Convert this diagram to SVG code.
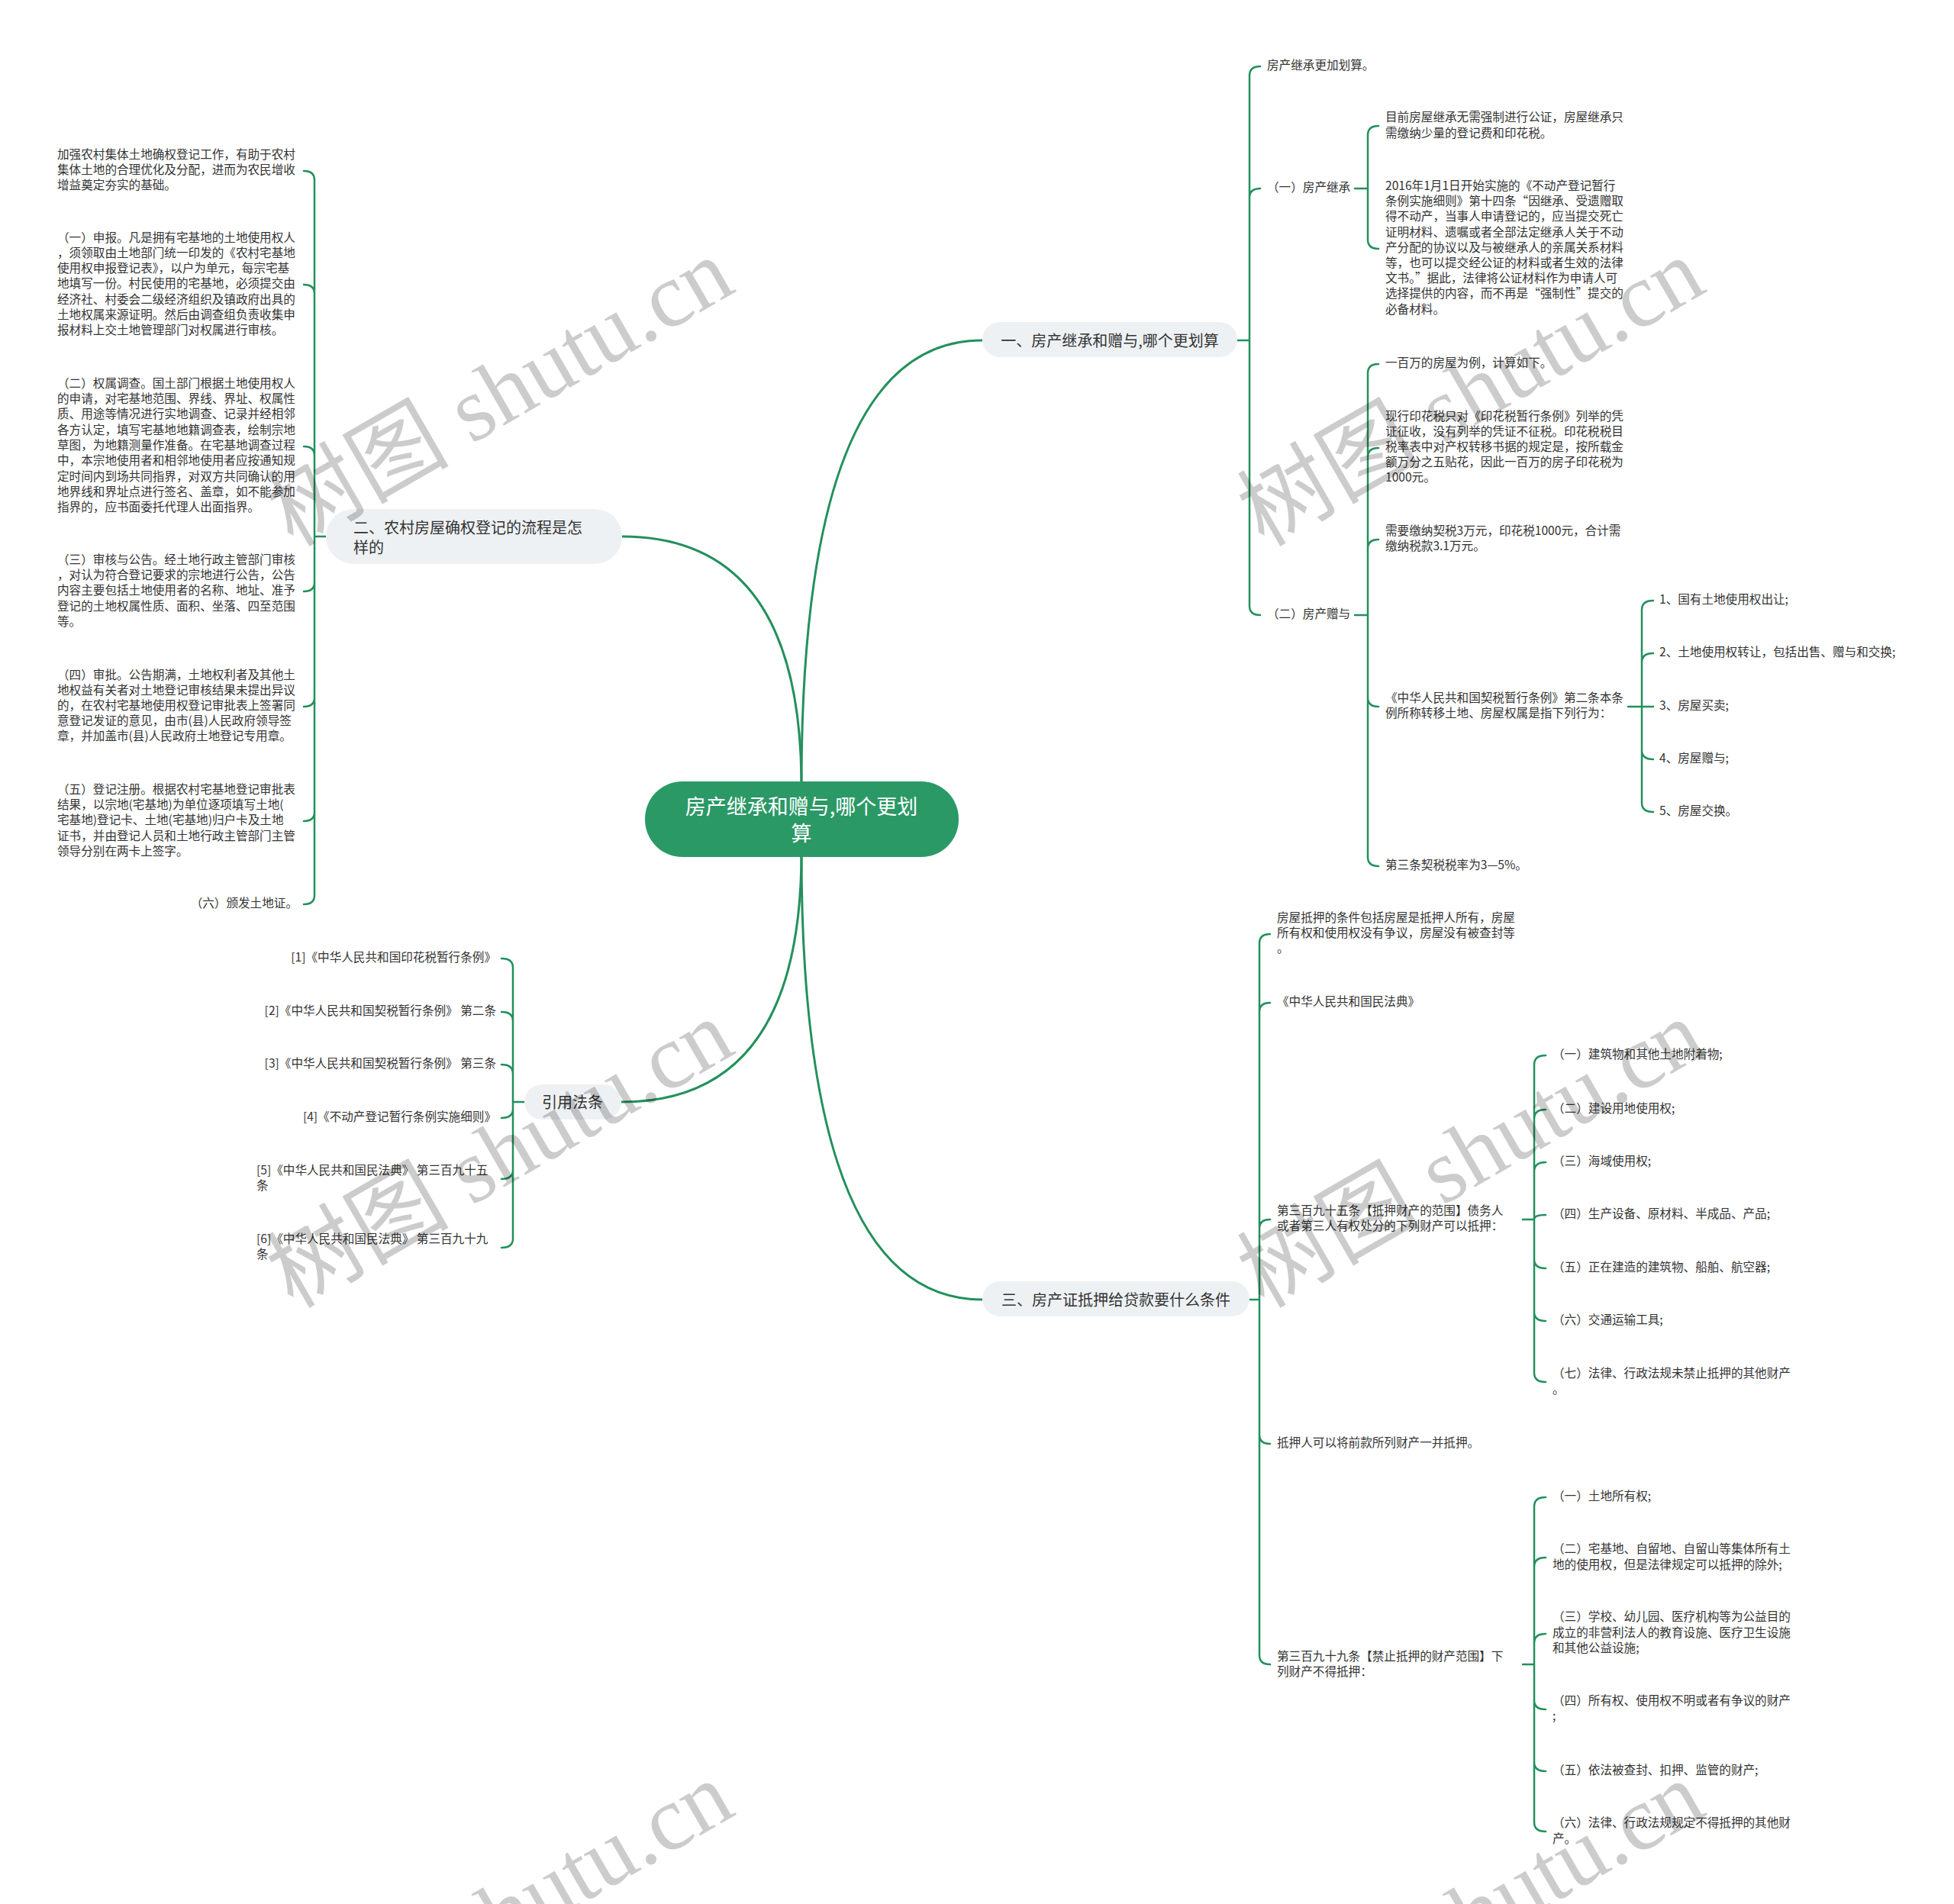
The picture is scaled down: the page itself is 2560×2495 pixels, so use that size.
<svg xmlns="http://www.w3.org/2000/svg" width="2560" height="2495" viewBox="0 0 2560 2495">
<style>
.t{font-family:"Noto Sans CJK SC","Liberation Sans",sans-serif;font-size:15.6px;fill:#333;dominant-baseline:central}
.bt{font-family:"Noto Sans CJK SC","Liberation Sans",sans-serif;font-size:20px;fill:#333;dominant-baseline:central}
.rt{font-family:"Noto Sans CJK SC","Liberation Sans",sans-serif;font-size:27px;fill:#fff;dominant-baseline:central}
.bn{fill:#eef1f4}
.ln{fill:none;stroke:#23905c;stroke-width:2.5;stroke-linecap:round}
.mn{fill:none;stroke:#23905c;stroke-width:3}
.wm{font-family:"Liberation Serif","Noto Sans CJK SC",serif;font-size:120px;fill:#000;fill-opacity:0.2}
</style>
<rect width="2560" height="2495" fill="#fff"/>
<g id="connectors">
<path class="mn" d="M1050 1030 Q1050 446 1287 446"/>
<path class="mn" d="M1050 1030 Q1050 703 815 703"/>
<path class="mn" d="M1050 1117 Q1050 1703 1287 1703"/>
<path class="mn" d="M1050 1117 Q1050 1444 814 1444"/>
<path class="ln" d="M1621 446 H1637 M1637 446 V99 Q1637 87 1651 87 M1637 446 V259 Q1637 247 1651 247 M1637 446 V794 Q1637 806 1651 806"/>
<path class="ln" d="M1775 247 H1792 M1792 247 V177 Q1792 165 1806 165 M1792 247 V314 Q1792 326 1806 326"/>
<path class="ln" d="M1775 806 H1792 M1792 806 V489 Q1792 477 1806 477 M1792 806 V599 Q1792 587 1806 587 M1792 806 V719 Q1792 707 1806 707 M1792 806 V914 Q1792 926 1806 926 M1792 806 V1123 Q1792 1135 1806 1135"/>
<path class="ln" d="M2133 926 H2166 M2151 926 V799 Q2151 787 2166 787 M2151 926 V868 Q2151 856 2166 856 M2151 926 V983 Q2151 995 2166 995 M2151 926 V1052 Q2151 1064 2166 1064"/>
<path class="ln" d="M1637 1703 H1650 M1650 1703 V1236 Q1650 1224 1664 1224 M1650 1703 V1326 Q1650 1314 1664 1314 M1650 1703 V1610 Q1650 1598 1664 1598 M1650 1703 V1880 Q1650 1892 1664 1892 M1650 1703 V2169 Q1650 2181 1664 2181"/>
<path class="ln" d="M1995 1598 H2010 M2010 1598 V1395 Q2010 1383 2025 1383 M2010 1598 V1466 Q2010 1454 2025 1454 M2010 1598 V1535 Q2010 1523 2025 1523 M2010 1598 Q2010 1592 2025 1592 M2010 1598 V1650 Q2010 1662 2025 1662 M2010 1598 V1719 Q2010 1731 2025 1731 M2010 1598 V1799 Q2010 1811 2025 1811"/>
<path class="ln" d="M1995 2181 H2010 M2010 2181 V1974 Q2010 1962 2025 1962 M2010 2181 V2053 Q2010 2041 2025 2041 M2010 2181 V2153 Q2010 2141 2025 2141 M2010 2181 V2228 Q2010 2240 2025 2240 M2010 2181 V2309 Q2010 2321 2025 2321 M2010 2181 V2388 Q2010 2400 2025 2400"/>
<path class="ln" d="M427 703 H412 M412 703 V236 Q412 224 398 224 M412 703 V385 Q412 373 398 373 M412 703 V597 Q412 585 398 585 M412 703 V763 Q412 775 398 775 M412 703 V914 Q412 926 398 926 M412 703 V1064 Q412 1076 398 1076 M412 703 V1173 Q412 1185 398 1185"/>
<path class="ln" d="M687 1444 H672 M672 1444 V1268 Q672 1256 657 1256 M672 1444 V1338 Q672 1326 657 1326 M672 1444 V1407 Q672 1395 657 1395 M672 1444 V1453 Q672 1465 657 1465 M672 1444 V1533 Q672 1545 657 1545 M672 1444 V1623 Q672 1635 657 1635"/>
</g>
<g id="root">
<rect x="845" y="1024" width="411" height="99" rx="49" fill="#2b9966"/>
<text class="rt" text-anchor="middle"><tspan x="1050" y="1055">房产继承和赠与,哪个更划</tspan><tspan x="1050" y="1090">算</tspan></text>
</g>
<g id="branch1">
<rect class="bn" x="1287" y="422" width="334" height="46" rx="23"/>
<text class="bt" x="1454" y="445" text-anchor="middle">一、房产继承和赠与,哪个更划算</text>
</g>
<g id="branch2">
<rect class="bn" x="427" y="667" width="388" height="72" rx="36"/>
<text class="bt"><tspan x="463" y="690">二、农村房屋确权登记的流程是怎</tspan><tspan x="463" y="716">样的</tspan></text>
</g>
<g id="branch3">
<rect class="bn" x="1287" y="1679" width="350" height="46" rx="23"/>
<text class="bt" x="1462" y="1702" text-anchor="middle">三、房产证抵押给贷款要什么条件</text>
</g>
<g id="branch4">
<rect class="bn" x="687" y="1421" width="127" height="46" rx="23"/>
<text class="bt" x="750" y="1443" text-anchor="middle">引用法条</text>
</g>
<g id="n1-leaves" transform="translate(0,-3)">
<text class="t" x="1660" y="87">房产继承更加划算。</text>
<text class="t" x="1660" y="247">（一）房产继承</text>
<text class="t" x="1660" y="806">（二）房产赠与</text>
<text class="t"><tspan x="1815" y="155">目前房屋继承无需强制进行公证，房屋继承只</tspan><tspan x="1815" y="176">需缴纳少量的登记费和印花税。</tspan></text>
<text class="t"><tspan x="1815" y="245">2016年1月1日开始实施的《不动产登记暂行</tspan><tspan x="1815" y="265">条例实施细则》第十四条“因继承、受遗赠取</tspan><tspan x="1815" y="285">得不动产，当事人申请登记的，应当提交死亡</tspan><tspan x="1815" y="306">证明材料、遗嘱或者全部法定继承人关于不动</tspan><tspan x="1815" y="326">产分配的协议以及与被继承人的亲属关系材料</tspan><tspan x="1815" y="346">等，也可以提交经公证的材料或者生效的法律</tspan><tspan x="1815" y="366">文书。”据此，法律将公证材料作为申请人可</tspan><tspan x="1815" y="386">选择提供的内容，而不再是“强制性”提交的</tspan><tspan x="1815" y="407">必备材料。</tspan></text>
<text class="t" x="1815" y="477">一百万的房屋为例，计算如下。</text>
<text class="t"><tspan x="1815" y="547">现行印花税只对《印花税暂行条例》列举的凭</tspan><tspan x="1815" y="567">证征收，没有列举的凭证不征税。印花税税目</tspan><tspan x="1815" y="587">税率表中对产权转移书据的规定是，按所载金</tspan><tspan x="1815" y="607">额万分之五贴花，因此一百万的房子印花税为</tspan><tspan x="1815" y="627">1000元。</tspan></text>
<text class="t"><tspan x="1815" y="697">需要缴纳契税3万元，印花税1000元，合计需</tspan><tspan x="1815" y="717">缴纳税款3.1万元。</tspan></text>
<text class="t"><tspan x="1815" y="916">《中华人民共和国契税暂行条例》第二条本条</tspan><tspan x="1815" y="936">例所称转移土地、房屋权属是指下列行为：</tspan></text>
<text class="t" x="1815" y="1135">第三条契税税率为3—5%。</text>
<text class="t" x="2174" y="787">1、国有土地使用权出让;</text>
<text class="t" x="2174" y="856">2、土地使用权转让，包括出售、赠与和交换;</text>
<text class="t" x="2174" y="926">3、房屋买卖;</text>
<text class="t" x="2174" y="995">4、房屋赠与;</text>
<text class="t" x="2174" y="1064">5、房屋交换。</text>
</g>
<g id="n2-leaves" transform="translate(0,-3)">
<text class="t"><tspan x="75" y="204">加强农村集体土地确权登记工作，有助于农村</tspan><tspan x="75" y="224">集体土地的合理优化及分配，进而为农民增收</tspan><tspan x="75" y="244">增益奠定夯实的基础。</tspan></text>
<text class="t"><tspan x="75" y="313">（一）申报。凡是拥有宅基地的土地使用权人</tspan><tspan x="75" y="333">，须领取由土地部门统一印发的《农村宅基地</tspan><tspan x="75" y="353">使用权申报登记表》，以户为单元，每宗宅基</tspan><tspan x="75" y="373">地填写一份。村民使用的宅基地，必须提交由</tspan><tspan x="75" y="394">经济社、村委会二级经济组织及镇政府出具的</tspan><tspan x="75" y="414">土地权属来源证明。然后由调查组负责收集申</tspan><tspan x="75" y="434">报材料上交土地管理部门对权属进行审核。</tspan></text>
<text class="t"><tspan x="75" y="504">（二）权属调查。国土部门根据土地使用权人</tspan><tspan x="75" y="524">的申请，对宅基地范围、界线、界址、权属性</tspan><tspan x="75" y="544">质、用途等情况进行实地调查、记录并经相邻</tspan><tspan x="75" y="565">各方认定，填写宅基地地籍调查表，绘制宗地</tspan><tspan x="75" y="585">草图，为地籍测量作准备。在宅基地调查过程</tspan><tspan x="75" y="605">中，本宗地使用者和相邻地使用者应按通知规</tspan><tspan x="75" y="626">定时间内到场共同指界，对双方共同确认的用</tspan><tspan x="75" y="646">地界线和界址点进行签名、盖章，如不能参加</tspan><tspan x="75" y="666">指界的，应书面委托代理人出面指界。</tspan></text>
<text class="t"><tspan x="75" y="735">（三）审核与公告。经土地行政主管部门审核</tspan><tspan x="75" y="755">，对认为符合登记要求的宗地进行公告，公告</tspan><tspan x="75" y="775">内容主要包括土地使用者的名称、地址、准予</tspan><tspan x="75" y="796">登记的土地权属性质、面积、坐落、四至范围</tspan><tspan x="75" y="816">等。</tspan></text>
<text class="t"><tspan x="75" y="886">（四）审批。公告期满，土地权利者及其他土</tspan><tspan x="75" y="906">地权益有关者对土地登记审核结果未提出异议</tspan><tspan x="75" y="926">的，在农村宅基地使用权登记审批表上签署同</tspan><tspan x="75" y="946">意登记发证的意见，由市(县)人民政府领导签</tspan><tspan x="75" y="966">章，并加盖市(县)人民政府土地登记专用章。</tspan></text>
<text class="t"><tspan x="75" y="1036">（五）登记注册。根据农村宅基地登记审批表</tspan><tspan x="75" y="1056">结果，以宗地(宅基地)为单位逐项填写土地(</tspan><tspan x="75" y="1076">宅基地)登记卡、土地(宅基地)归户卡及土地</tspan><tspan x="75" y="1097">证书，并由登记人员和土地行政主管部门主管</tspan><tspan x="75" y="1117">领导分别在两卡上签字。</tspan></text>
<text class="t" x="390" y="1185" text-anchor="end">（六）颁发土地证。</text>
</g>
<g id="n4-leaves" transform="translate(0,-3)">
<text class="t" x="650" y="1256" text-anchor="end">[1]《中华人民共和国印花税暂行条例》</text>
<text class="t" x="650" y="1326" text-anchor="end">[2]《中华人民共和国契税暂行条例》 第二条</text>
<text class="t" x="650" y="1395" text-anchor="end">[3]《中华人民共和国契税暂行条例》 第三条</text>
<text class="t" x="650" y="1465" text-anchor="end">[4]《不动产登记暂行条例实施细则》</text>
<text class="t"><tspan x="336" y="1535">[5]《中华人民共和国民法典》 第三百九十五</tspan><tspan x="336" y="1555">条</tspan></text>
<text class="t"><tspan x="336" y="1625">[6]《中华人民共和国民法典》 第三百九十九</tspan><tspan x="336" y="1645">条</tspan></text>
</g>
<g id="n3-leaves" transform="translate(0,-3)">
<text class="t"><tspan x="1673" y="1204">房屋抵押的条件包括房屋是抵押人所有，房屋</tspan><tspan x="1673" y="1224">所有权和使用权没有争议，房屋没有被查封等</tspan><tspan x="1673" y="1244">。</tspan></text>
<text class="t" x="1673" y="1314">《中华人民共和国民法典》</text>
<text class="t"><tspan x="1673" y="1588">第三百九十五条【抵押财产的范围】债务人</tspan><tspan x="1673" y="1608">或者第三人有权处分的下列财产可以抵押：</tspan></text>
<text class="t" x="1673" y="1892">抵押人可以将前款所列财产一并抵押。</text>
<text class="t"><tspan x="1673" y="2172">第三百九十九条【禁止抵押的财产范围】下</tspan><tspan x="1673" y="2192">列财产不得抵押：</tspan></text>
<text class="t" x="2034" y="1383">（一）建筑物和其他土地附着物;</text>
<text class="t" x="2034" y="1454">（二）建设用地使用权;</text>
<text class="t" x="2034" y="1523">（三）海域使用权;</text>
<text class="t" x="2034" y="1592">（四）生产设备、原材料、半成品、产品;</text>
<text class="t" x="2034" y="1662">（五）正在建造的建筑物、船舶、航空器;</text>
<text class="t" x="2034" y="1731">（六）交通运输工具;</text>
<text class="t"><tspan x="2034" y="1801">（七）法律、行政法规未禁止抵押的其他财产</tspan><tspan x="2034" y="1822">。</tspan></text>
<text class="t" x="2034" y="1962">（一）土地所有权;</text>
<text class="t"><tspan x="2034" y="2031">（二）宅基地、自留地、自留山等集体所有土</tspan><tspan x="2034" y="2052">地的使用权，但是法律规定可以抵押的除外;</tspan></text>
<text class="t"><tspan x="2034" y="2120">（三）学校、幼儿园、医疗机构等为公益目的</tspan><tspan x="2034" y="2141">成立的非营利法人的教育设施、医疗卫生设施</tspan><tspan x="2034" y="2161">和其他公益设施;</tspan></text>
<text class="t"><tspan x="2034" y="2230">（四）所有权、使用权不明或者有争议的财产</tspan><tspan x="2034" y="2250">;</tspan></text>
<text class="t" x="2034" y="2321">（五）依法被查封、扣押、监管的财产;</text>
<text class="t"><tspan x="2034" y="2390">（六）法律、行政法规规定不得抵押的其他财</tspan><tspan x="2034" y="2411">产。</tspan></text>
</g>
<g id="watermark">
<text class="wm" x="655" y="514" text-anchor="middle" dominant-baseline="central" transform="rotate(-30 655 514)">树图 shutu.cn</text>
<text class="wm" x="1927" y="514" text-anchor="middle" dominant-baseline="central" transform="rotate(-30 1927 514)">树图 shutu.cn</text>
<text class="wm" x="655" y="1512" text-anchor="middle" dominant-baseline="central" transform="rotate(-30 655 1512)">树图 shutu.cn</text>
<text class="wm" x="1927" y="1512" text-anchor="middle" dominant-baseline="central" transform="rotate(-30 1927 1512)">树图 shutu.cn</text>
<text class="wm" x="655" y="2510" text-anchor="middle" dominant-baseline="central" transform="rotate(-30 655 2510)">树图 shutu.cn</text>
<text class="wm" x="1927" y="2510" text-anchor="middle" dominant-baseline="central" transform="rotate(-30 1927 2510)">树图 shutu.cn</text>
</g>
</svg>
